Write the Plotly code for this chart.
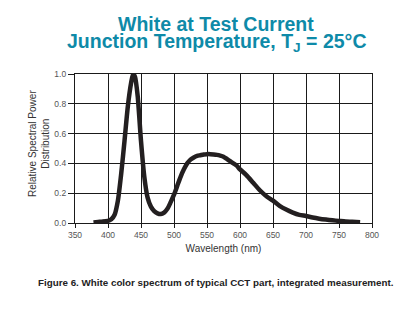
import plotly.graph_objects as go

wavelength = [378, 385, 390, 395, 400, 405, 410, 415, 420, 425, 430, 435, 438, 441, 445,
              450, 455, 460, 465, 470, 475, 480, 485, 490, 495, 500, 505, 510, 515, 520,
              525, 530, 535, 540, 545, 550, 555, 560, 565, 570, 575, 580, 585, 590, 595,
              600, 610, 620, 630, 640, 650, 660, 670, 680, 690, 700, 710, 720, 730, 740,
              750, 760, 770, 782]
power = [0.004, 0.007, 0.009, 0.011, 0.014, 0.025, 0.055, 0.15, 0.33, 0.55, 0.78, 0.94, 1.0, 0.98, 0.85,
         0.55, 0.31, 0.17, 0.11, 0.08, 0.065, 0.06, 0.07, 0.095, 0.14, 0.19, 0.25, 0.31, 0.36, 0.40,
         0.425, 0.44, 0.45, 0.455, 0.46, 0.462, 0.462, 0.46, 0.457, 0.452, 0.445, 0.43, 0.415, 0.40, 0.385,
         0.36, 0.32, 0.27, 0.22, 0.18, 0.15, 0.115, 0.09, 0.07, 0.055, 0.047, 0.037, 0.029, 0.023, 0.018,
         0.014, 0.01, 0.008, 0.005]

x_ticks = [350, 400, 450, 500, 550, 600, 650, 700, 750, 800]
y_ticks = [0.0, 0.2, 0.4, 0.6, 0.8, 1.0]

FONT = "Liberation Sans, Arial, Helvetica, sans-serif"
TEAL = "#0e8aa8"

fig = go.Figure()
fig.add_trace(go.Scatter(x=wavelength, y=power, mode="lines",
                         line=dict(color="#231f20", width=4.5, shape="spline", smoothing=0.6),
                         hoverinfo="skip", showlegend=False))

fig.update_layout(
    width=420, height=325,
    margin=dict(l=75, r=48, t=74, b=102),
    paper_bgcolor="white", plot_bgcolor="white",
    font=dict(family=FONT, size=8.5, color="#555555"),
    showlegend=False,
)
fig.update_xaxes(range=[350, 800], tickvals=x_ticks, ticktext=[str(v) for v in x_ticks],
                 showgrid=True, gridcolor="#1a1a1a", gridwidth=1,
                 showline=True, linecolor="#1a1a1a", linewidth=1.2, mirror=True,
                 ticks="outside", ticklen=4, tickcolor="#1a1a1a", zeroline=False,
                 tickfont=dict(size=8.5, color="#555555"),
                 title=dict(text="Wavelength (nm)", font=dict(size=10, color="#333333"), standoff=5))
fig.update_yaxes(range=[0, 1.0], tickvals=y_ticks, ticktext=[f"{v:.1f}" for v in y_ticks],
                 showgrid=True, gridcolor="#1a1a1a", gridwidth=1,
                 showline=True, linecolor="#1a1a1a", linewidth=1.2, mirror=True,
                 ticks="outside", ticklen=6, tickcolor="#1a1a1a", zeroline=False,
                 tickfont=dict(size=8.5, color="#555555"))

fig.update_layout(annotations=[
    dict(text="<b>White at Test Current</b>", xref="paper", yref="paper",
         x=(216 - 75) / 297, y=1 + (74 - 23.5) / 149, xanchor="center", yanchor="middle",
         showarrow=False, font=dict(family=FONT, size=19.5, color=TEAL)),
    dict(text="<b>Junction Temperature, T<sub>J</sub> = 25°C</b>", xref="paper", yref="paper",
         x=(216 - 75) / 297, y=1 + (74 - 42) / 149, xanchor="center", yanchor="middle",
         showarrow=False, font=dict(family=FONT, size=19.5, color=TEAL)),
    dict(text="Relative Spectral Power<br>Distribution", xref="paper", yref="paper",
         x=(39 - 75) / 297, y=(223 - 144) / 149, xanchor="center", yanchor="middle",
         textangle=-90, showarrow=False, font=dict(family=FONT, size=10, color="#333333")),
    dict(text="<b>Figure 6. White color spectrum of typical CCT part, integrated measurement.</b>",
         xref="paper", yref="paper", x=(216 - 75) / 297, y=-(282 - 223) / 149,
         xanchor="center", yanchor="middle", showarrow=False,
         font=dict(family=FONT, size=9.8, color="#222222")),
])

fig.write_html("out.html")
